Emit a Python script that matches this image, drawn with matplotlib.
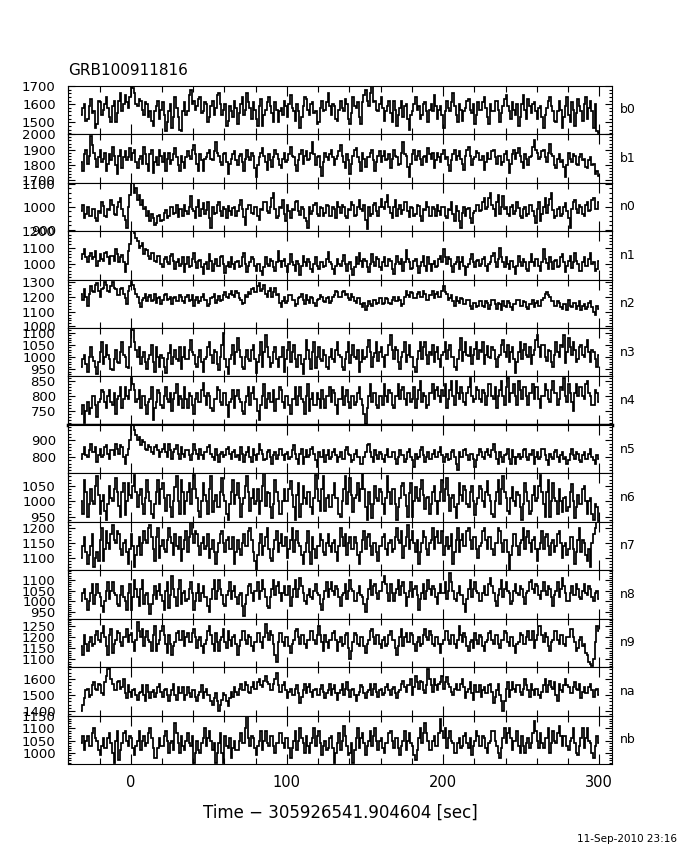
import numpy as np
import matplotlib
matplotlib.use("Agg")
import matplotlib.pyplot as plt
from matplotlib.ticker import MultipleLocator, AutoMinorLocator

plt.rcParams['font.family'] = ['DejaVu Sans']

title = "GRB100911816"
xlabel = "Time \u2212 305926541.904604 [sec]"
date_text = "11-Sep-2010 23:16"
t_start = -32.0
bin_width = 1.0
x_ticks = [0, 100, 200, 300]

b0 = [1540, 1580, 1600, 1510, 1520, 1590, 1630, 1550, 1560, 1470, 1490, 1620, 1610, 1540, 1570, 1600, 1640, 1580, 1530, 1500, 1590, 1620, 1500, 1550, 1620, 1660, 1560, 1600, 1650, 1610, 1580, 1640,
      1700, 1690, 1660, 1600, 1590, 1630, 1620, 1570, 1540, 1610, 1600, 1530, 1560, 1510, 1480, 1560, 1590, 1620, 1520, 1570, 1610, 1540, 1450, 1500, 1560, 1600, 1470, 1530, 1640, 1580, 1530, 1460,
      1450, 1560, 1610, 1540, 1560, 1650, 1680, 1600, 1620, 1570, 1590, 1630, 1640, 1550, 1560, 1610, 1600, 1500, 1530, 1590, 1620, 1540, 1580, 1650, 1660, 1600, 1540, 1570, 1600, 1480, 1510, 1590,
      1560, 1530, 1620, 1580, 1490, 1550, 1600, 1640, 1540, 1570, 1660, 1610, 1580, 1520, 1610, 1570, 1520, 1480, 1590, 1630, 1480, 1540, 1570, 1610, 1640, 1590, 1550, 1500, 1610, 1570, 1500, 1560,
      1580, 1540, 1620, 1590, 1530, 1600, 1650, 1580, 1560, 1510, 1600, 1560, 1470, 1530, 1590, 1640, 1630, 1570, 1540, 1600, 1610, 1550, 1560, 1490, 1500, 1580, 1620, 1560, 1570, 1610, 1660, 1590,
      1540, 1600, 1590, 1520, 1510, 1570, 1620, 1580, 1560, 1630, 1600, 1520, 1490, 1550, 1640, 1590, 1580, 1610, 1530, 1490, 1610, 1650, 1680, 1620, 1590, 1660, 1700, 1610, 1620, 1570, 1560, 1600,
      1640, 1580, 1510, 1560, 1590, 1620, 1550, 1500, 1620, 1570, 1480, 1540, 1580, 1620, 1530, 1590, 1600, 1520, 1460, 1540, 1560, 1600, 1640, 1570, 1590, 1520, 1540, 1600, 1610, 1560, 1500, 1570,
      1600, 1560, 1650, 1590, 1520, 1570, 1590, 1540, 1470, 1560, 1620, 1580, 1560, 1610, 1660, 1590, 1540, 1500, 1600, 1570, 1510, 1560, 1580, 1620, 1630, 1570, 1550, 1600, 1490, 1540, 1610, 1570,
      1570, 1610, 1640, 1580, 1530, 1490, 1600, 1560, 1560, 1620, 1620, 1570, 1500, 1550, 1590, 1630, 1650, 1590, 1560, 1520, 1610, 1570, 1540, 1600, 1480, 1530, 1600, 1650, 1570, 1520, 1630, 1590,
      1550, 1600, 1610, 1560, 1520, 1580, 1590, 1530, 1470, 1540, 1580, 1620, 1640, 1590, 1560, 1510, 1500, 1560, 1620, 1570, 1470, 1530, 1590, 1640, 1540, 1500, 1610, 1570, 1480, 1550, 1630, 1590,
      1560, 1510, 1600, 1640, 1520, 1580, 1620, 1560, 1470, 1600, 1450, 1440]
b1 = [1820, 1760, 1870, 1900, 1810, 1860, 1990, 1930, 1880, 1840, 1790, 1850, 1900, 1820, 1840, 1880, 1760, 1810, 1870, 1830, 1920, 1860, 1800, 1740, 1860, 1900, 1780, 1850, 1890, 1830, 1850, 1910,
      1830, 1880, 1900, 1820, 1780, 1840, 1860, 1810, 1920, 1870, 1810, 1760, 1870, 1900, 1750, 1820, 1850, 1800, 1900, 1860, 1820, 1880, 1760, 1840, 1880, 1810, 1830, 1870, 1910, 1850, 1800, 1760,
      1860, 1820, 1780, 1850, 1890, 1860, 1840, 1900, 1930, 1870, 1810, 1760, 1870, 1830, 1760, 1840, 1850, 1880, 1900, 1840, 1830, 1890, 1950, 1880, 1860, 1820, 1800, 1870, 1880, 1820, 1740, 1810,
      1840, 1870, 1890, 1830, 1800, 1860, 1870, 1820, 1760, 1840, 1900, 1850, 1830, 1880, 1860, 1780, 1720, 1800, 1850, 1880, 1910, 1860, 1820, 1770, 1870, 1830, 1790, 1850, 1900, 1870, 1840, 1800,
      1780, 1840, 1880, 1820, 1830, 1870, 1920, 1860, 1850, 1800, 1760, 1830, 1870, 1900, 1810, 1860, 1890, 1830, 1840, 1880, 1950, 1870, 1800, 1850, 1860, 1790, 1730, 1820, 1880, 1850, 1830, 1870,
      1900, 1850, 1800, 1840, 1860, 1890, 1930, 1860, 1820, 1780, 1870, 1830, 1740, 1810, 1860, 1900, 1910, 1850, 1820, 1760, 1880, 1840, 1790, 1850, 1850, 1880, 1900, 1830, 1760, 1820, 1860, 1890,
      1820, 1860, 1890, 1830, 1840, 1870, 1780, 1840, 1900, 1860, 1850, 1800, 1810, 1880, 1950, 1870, 1860, 1790, 1720, 1810, 1870, 1900, 1830, 1860, 1890, 1840, 1800, 1850, 1860, 1820, 1910, 1870,
      1840, 1880, 1780, 1830, 1880, 1850, 1820, 1870, 1900, 1840, 1850, 1800, 1760, 1830, 1870, 1900, 1830, 1860, 1890, 1840, 1810, 1770, 1860, 1900, 1920, 1860, 1800, 1840, 1850, 1890, 1880, 1830,
      1830, 1860, 1770, 1820, 1880, 1840, 1840, 1890, 1900, 1850, 1810, 1860, 1860, 1800, 1820, 1870, 1890, 1830, 1750, 1810, 1870, 1900, 1840, 1880, 1910, 1860, 1820, 1780, 1870, 1840, 1800, 1850,
      1860, 1920, 1960, 1900, 1880, 1840, 1850, 1890, 1900, 1850, 1820, 1880, 1940, 1870, 1860, 1800, 1780, 1840, 1870, 1820, 1830, 1790, 1720, 1800, 1880, 1840, 1820, 1870, 1860, 1810, 1800, 1850,
      1870, 1830, 1840, 1790, 1780, 1830, 1850, 1800, 1810, 1740, 1760, 1730]
n0 = [980, 1010, 950, 970, 1000, 960, 960, 990, 990, 950, 940, 980, 975, 1020, 1005, 960, 955, 990, 985, 1030, 1010, 970, 965, 1000, 1020, 1040, 990, 960, 945, 910, 1000, 1050,
      1105, 1105, 1060, 1080, 1030, 1050, 1010, 1030, 990, 1000, 960, 980, 940, 970, 950, 920, 930, 960, 965, 940, 945, 975, 985, 950, 960, 1000, 1000, 970, 975, 1010, 955, 990,
      990, 960, 1010, 980, 970, 1000, 1045, 990, 980, 950, 1000, 1030, 960, 990, 1015, 970, 985, 1020, 950, 910, 1000, 970, 975, 1010, 1020, 980, 960, 1000, 990, 950, 1005, 980,
      965, 995, 1000, 960, 980, 1010, 1030, 990, 955, 920, 990, 1010, 1010, 975, 970, 1000, 1000, 960, 945, 990, 985, 1020, 1020, 980, 975, 1000, 1040, 1060, 990, 950, 960, 1000,
      995, 1030, 970, 940, 1010, 980, 950, 990, 985, 1020, 1025, 980, 965, 1000, 990, 950, 940, 910, 1000, 970, 980, 1010, 1015, 970, 960, 1000, 995, 960, 975, 1010, 1005, 960,
      960, 1000, 990, 950, 1020, 1000, 975, 1010, 1000, 960, 950, 990, 985, 1020, 1010, 960, 965, 1000, 1030, 990, 980, 1010, 945, 905, 1000, 960, 970, 1010, 1015, 980, 960, 1000,
      1035, 1000, 990, 1020, 1050, 1000, 975, 950, 1000, 1030, 960, 990, 1010, 970, 985, 1020, 1020, 980, 955, 1000, 995, 960, 970, 1010, 1005, 960, 940, 990, 985, 1020, 1000, 960,
      960, 1000, 990, 960, 1010, 980, 965, 1000, 1000, 960, 950, 990, 985, 1020, 970, 940, 1005, 980, 940, 910, 975, 1000, 960, 990, 995, 950, 930, 975, 980, 1010, 1010, 980,
      985, 1020, 1040, 990, 1000, 1040, 1060, 1010, 990, 960, 1020, 1050, 970, 1000, 1045, 990, 1000, 970, 960, 1000, 1010, 970, 980, 1020, 995, 960, 950, 990, 1000, 960, 970, 1010,
      1010, 980, 960, 930, 990, 1020, 940, 970, 1000, 1040, 975, 1010, 1035, 1060, 985, 950, 960, 990, 1000, 960, 970, 1000, 1015, 980, 950, 910, 990, 1020, 1030, 990, 975, 1010,
      1000, 970, 960, 1010, 1020, 980, 985, 1030, 1040, 990, 990, 1020]
n1 = [1030, 1060, 1095, 1040, 1010, 1050, 1070, 1030, 1045, 1080, 990, 1020, 1060, 1030, 1020, 1070, 1075, 1040, 1000, 1050, 1050, 1020, 1090, 1060, 1015, 1040, 1055, 1010, 950, 1000, 1080, 1120,
      1202, 1202, 1190, 1160, 1140, 1100, 1110, 1130, 1060, 1090, 1085, 1050, 1030, 1070, 1065, 1020, 1010, 1050, 1050, 1000, 980, 1030, 1040, 1010, 1000, 1050, 1060, 1020, 970, 1010, 1030, 990,
      1000, 1040, 950, 1000, 1040, 980, 990, 1030, 1070, 1010, 975, 1020, 1025, 980, 940, 1000, 1010, 970, 1060, 1020, 960, 1000, 1030, 990, 990, 1040, 1050, 1000, 945, 990, 1015, 980,
      1040, 1000, 970, 1010, 1020, 980, 985, 1040, 1065, 1000, 950, 990, 1010, 1040, 1030, 990, 960, 1000, 1000, 960, 935, 980, 1045, 1000, 990, 1030, 1020, 980, 960, 1010, 1080, 1020,
      980, 1020, 1030, 990, 950, 1000, 1060, 1010, 995, 960, 1020, 1000, 930, 990, 1050, 1010, 985, 1030, 1010, 970, 950, 1000, 1040, 990, 970, 1010, 1015, 980, 990, 1030, 1075, 1010,
      1000, 970, 940, 990, 1030, 1000, 985, 1020, 1055, 1000, 960, 1000, 1010, 970, 930, 980, 1040, 1000, 1070, 1020, 980, 1030, 1020, 980, 950, 1000, 1060, 1010, 990, 1040, 1030, 980,
      965, 1010, 1040, 990, 990, 1030, 1020, 970, 940, 1000, 1050, 1010, 1000, 1030, 960, 1010, 1085, 1030, 1010, 970, 975, 1020, 1030, 990, 945, 990, 1015, 1050, 990, 960, 1040, 1000,
      960, 1000, 1020, 980, 985, 1030, 1050, 1010, 1095, 1040, 1000, 1040, 1030, 990, 950, 1000, 1010, 1040, 970, 1010, 1045, 990, 935, 980, 1000, 1030, 1060, 1010, 980, 1020, 1025, 990,
      1000, 1030, 1040, 990, 955, 1000, 1015, 1050, 1070, 1010, 980, 1030, 1100, 1040, 1010, 980, 1045, 1000, 970, 1020, 1020, 980, 940, 990, 1050, 1010, 990, 1030, 1015, 970, 960, 1010,
      1060, 1010, 985, 1030, 1030, 990, 960, 1010, 1090, 1030, 1005, 970, 1040, 1010, 970, 1020, 1025, 980, 990, 1040, 1060, 1010, 950, 990, 1020, 1050, 975, 1010, 1070, 1020, 1000, 960,
      955, 1010, 1040, 990, 990, 1030, 1065, 1000, 1010, 960, 970, 1020]
n2 = [1220, 1180, 1250, 1200, 1140, 1220, 1270, 1240, 1230, 1280, 1290, 1240, 1200, 1250, 1260, 1300, 1280, 1240, 1230, 1270, 1300, 1260, 1250, 1210, 1210, 1250, 1260, 1220, 1190, 1150, 1240, 1270,
      1300, 1280, 1250, 1220, 1200, 1160, 1130, 1180, 1190, 1220, 1170, 1200, 1210, 1170, 1180, 1220, 1160, 1190, 1200, 1150, 1175, 1210, 1220, 1180, 1185, 1200, 1150, 1190, 1200, 1170, 1170, 1210,
      1195, 1170, 1160, 1200, 1210, 1170, 1180, 1210, 1140, 1180, 1200, 1160, 1170, 1200, 1215, 1180, 1180, 1140, 1150, 1190, 1195, 1220, 1160, 1180, 1205, 1170, 1175, 1210, 1230, 1200, 1190, 1220,
      1240, 1210, 1200, 1240, 1225, 1190, 1180, 1150, 1160, 1210, 1200, 1230, 1220, 1250, 1260, 1230, 1230, 1270, 1290, 1240, 1250, 1280, 1220, 1200, 1240, 1260, 1200, 1230, 1260, 1210, 1220, 1160,
      1130, 1170, 1200, 1160, 1170, 1210, 1210, 1180, 1180, 1140, 1150, 1190, 1200, 1220, 1175, 1150, 1210, 1180, 1160, 1200, 1190, 1160, 1140, 1180, 1185, 1210, 1200, 1170, 1165, 1190, 1195, 1160,
      1170, 1200, 1210, 1240, 1230, 1200, 1200, 1230, 1240, 1210, 1215, 1190, 1180, 1220, 1200, 1170, 1160, 1190, 1190, 1150, 1130, 1160, 1110, 1140, 1170, 1150, 1140, 1180, 1180, 1150, 1155, 1190,
      1190, 1150, 1160, 1190, 1185, 1160, 1150, 1180, 1200, 1170, 1170, 1200, 1180, 1140, 1150, 1200, 1240, 1210, 1200, 1230, 1225, 1190, 1190, 1220, 1230, 1200, 1200, 1240, 1215, 1180, 1180, 1210,
      1210, 1240, 1190, 1220, 1230, 1200, 1200, 1240, 1270, 1230, 1220, 1180, 1190, 1210, 1170, 1140, 1200, 1170, 1160, 1190, 1185, 1150, 1150, 1180, 1175, 1140, 1120, 1160, 1160, 1130, 1140, 1170,
      1170, 1140, 1130, 1170, 1160, 1120, 1145, 1180, 1180, 1150, 1120, 1160, 1150, 1110, 1170, 1140, 1130, 1170, 1160, 1130, 1110, 1150, 1150, 1180, 1175, 1140, 1140, 1170, 1165, 1130, 1120, 1150,
      1150, 1180, 1130, 1160, 1170, 1140, 1140, 1180, 1190, 1220, 1230, 1210, 1200, 1170, 1170, 1140, 1140, 1170, 1160, 1130, 1120, 1150, 1150, 1110, 1175, 1140, 1130, 1160, 1160, 1120, 1140, 1170,
      1110, 1140, 1150, 1120, 1130, 1160, 1170, 1130, 1100, 1080, 1140, 1120]
n3 = [960, 990, 1010, 970, 940, 1000, 1040, 1000, 985, 960, 930, 980, 1020, 1060, 970, 1000, 1050, 1010, 990, 950, 945, 990, 1030, 980, 975, 1020, 1060, 1010, 1000, 960, 955, 1040,
      1120, 1110, 1060, 1030, 1000, 1040, 970, 1000, 1020, 980, 950, 990, 1010, 1050, 980, 940, 1040, 1000, 960, 1010, 995, 960, 935, 990, 1015, 1050, 970, 1000, 1030, 990, 985, 1040,
      950, 1000, 1040, 990, 990, 1030, 1070, 1020, 1010, 970, 960, 1000, 1030, 980, 940, 990, 1000, 1040, 1060, 1010, 975, 1030, 1020, 970, 945, 1000, 1050, 1100, 990, 960, 930, 990,
      1010, 1050, 970, 1020, 1080, 1030, 1000, 960, 950, 1000, 1030, 990, 985, 1030, 1050, 990, 935, 980, 1010, 1060, 960, 1020, 1090, 1040, 1000, 960, 975, 1020, 1040, 990, 960, 1000,
      1000, 1040, 940, 990, 1030, 1060, 980, 1020, 1050, 990, 960, 1010, 1010, 970, 930, 990, 1070, 1030, 990, 950, 1020, 1060, 955, 1000, 1040, 990, 985, 1030, 1010, 960, 950, 1000,
      1035, 990, 980, 1030, 1060, 1010, 1000, 960, 945, 990, 1020, 1060, 975, 1010, 1050, 1000, 990, 1030, 940, 980, 1030, 990, 1000, 1040, 1070, 1020, 960, 1000, 1015, 1060, 985, 1020,
      1040, 1000, 960, 1010, 1010, 1050, 1090, 1030, 990, 1040, 1030, 980, 950, 1000, 1020, 1060, 980, 1010, 1050, 1000, 1000, 960, 940, 990, 1025, 1060, 990, 1040, 1060, 1010, 970, 1020,
      1010, 1050, 980, 1020, 1040, 990, 960, 1010, 1020, 1060, 990, 1030, 1050, 1000, 1000, 960, 945, 990, 1030, 1080, 985, 1020, 1060, 1010, 1005, 1040, 970, 1010, 1035, 1060, 990, 1030,
      1020, 1060, 970, 1010, 1045, 1000, 995, 1040, 1030, 990, 960, 1000, 1010, 1050, 1070, 1020, 1000, 1050, 980, 1020, 1040, 990, 935, 980, 1020, 1060, 990, 1030, 1055, 1010, 1000, 1040,
      970, 1010, 1030, 1070, 1090, 1040, 1000, 1050, 1050, 1000, 985, 1030, 1025, 980, 960, 1010, 1060, 1020, 1000, 1050, 1040, 1090, 975, 1020, 1080, 1040, 1010, 1060, 1030, 980, 990, 1040,
      1050, 1010, 1000, 1040, 1070, 1020, 980, 1030, 1020, 990, 960, 1010]
n4 = [740, 770, 710, 750, 780, 740, 760, 800, 800, 770, 730, 780, 790, 820, 815, 780, 760, 800, 820, 780, 770, 810, 740, 790, 800, 830, 760, 790, 830, 800, 790, 820,
      860, 840, 820, 780, 790, 820, 760, 800, 800, 770, 740, 780, 790, 830, 720, 760, 780, 820, 810, 770, 760, 800, 830, 790, 780, 810, 750, 790, 810, 840, 770, 800,
      790, 760, 830, 790, 760, 810, 800, 770, 740, 790, 810, 780, 780, 820, 845, 800, 770, 810, 800, 760, 750, 790, 790, 830, 820, 780, 770, 810, 810, 770, 730, 780,
      790, 820, 760, 800, 820, 790, 780, 750, 740, 780, 800, 830, 770, 810, 830, 790, 790, 750, 720, 770, 800, 840, 760, 790, 810, 780, 780, 820, 750, 790, 790, 830,
      820, 780, 760, 800, 800, 770, 740, 790, 790, 830, 770, 800, 830, 790, 780, 740, 800, 840, 750, 790, 810, 770, 770, 810, 790, 760, 820, 790, 760, 800, 800, 830,
      780, 820, 810, 770, 740, 790, 790, 830, 770, 800, 820, 780, 760, 800, 800, 770, 780, 810, 830, 790, 770, 740, 705, 760, 800, 840, 780, 810, 810, 770, 760, 800,
      800, 770, 840, 800, 780, 820, 810, 770, 760, 800, 800, 840, 790, 820, 830, 790, 770, 810, 810, 780, 790, 830, 760, 790, 820, 850, 780, 810, 800, 760, 770, 810,
      810, 840, 790, 820, 830, 800, 780, 820, 800, 840, 760, 790, 820, 850, 800, 770, 850, 810, 790, 830, 810, 780, 770, 810, 830, 860, 800, 780, 790, 830, 820, 790,
      780, 820, 810, 770, 800, 840, 840, 800, 790, 830, 760, 800, 820, 850, 800, 770, 830, 860, 780, 810, 810, 840, 800, 770, 850, 820, 790, 830, 830, 800, 770, 810,
      810, 840, 790, 830, 830, 790, 760, 800, 800, 840, 820, 790, 780, 820, 850, 810, 810, 770, 790, 830, 820, 860, 800, 780, 840, 810, 780, 750, 810, 840, 800, 830,
      830, 800, 790, 840, 850, 810, 800, 770, 770, 820, 810, 780]
n5 = [790, 820, 860, 810, 800, 840, 880, 830, 830, 860, 770, 810, 850, 800, 815, 860, 870, 820, 790, 840, 840, 810, 880, 850, 820, 870, 860, 800, 760, 810, 850, 900,
      992, 992, 960, 930, 900, 920, 870, 900, 890, 850, 840, 870, 860, 830, 820, 860, 870, 840, 800, 830, 850, 880, 830, 800, 880, 840, 790, 830, 845, 870, 820, 790,
      860, 820, 800, 840, 840, 810, 780, 820, 880, 840, 820, 790, 850, 810, 790, 830, 830, 860, 870, 820, 800, 780, 845, 810, 770, 820, 830, 800, 810, 850, 860, 820,
      790, 830, 840, 800, 810, 780, 860, 820, 770, 810, 830, 860, 800, 770, 850, 810, 780, 820, 880, 840, 820, 780, 790, 830, 840, 800, 760, 810, 830, 790, 810, 850,
      850, 810, 780, 820, 830, 790, 800, 840, 870, 820, 790, 760, 820, 850, 760, 800, 840, 800, 810, 850, 860, 820, 780, 740, 830, 800, 800, 840, 770, 810, 840, 790,
      800, 830, 850, 810, 770, 800, 830, 790, 790, 840, 860, 820, 810, 770, 780, 820, 840, 800, 800, 760, 760, 800, 830, 870, 880, 830, 800, 770, 840, 810, 790, 830,
      820, 790, 770, 810, 850, 800, 800, 830, 830, 790, 760, 800, 840, 810, 810, 770, 790, 830, 850, 800, 780, 740, 820, 790, 800, 840, 860, 810, 770, 800, 830, 790,
      790, 820, 840, 800, 800, 830, 860, 810, 770, 800, 820, 780, 790, 830, 840, 800, 760, 720, 830, 800, 800, 840, 850, 810, 780, 820, 820, 790, 740, 780, 810, 850,
      830, 800, 790, 830, 850, 810, 800, 840, 880, 830, 790, 760, 830, 800, 770, 810, 820, 850, 790, 760, 840, 800, 760, 800, 820, 790, 800, 840, 850, 800, 780, 820,
      810, 840, 760, 800, 830, 790, 800, 850, 850, 810, 780, 750, 820, 800, 790, 830, 840, 800, 770, 810, 830, 790, 800, 760, 780, 820, 850, 810, 790, 830, 820, 780,
      770, 810, 830, 790, 790, 820, 850, 800, 780, 760, 810, 790]
n6 = [1000, 960, 1070, 1030, 950, 990, 1040, 1000, 990, 1050, 1080, 1020, 960, 1000, 1020, 970, 940, 990, 1050, 1010, 1000, 1040, 1075, 1030, 985, 950, 1030, 1060, 955, 1000, 1060, 1020,
      1010, 1050, 1085, 1030, 980, 1020, 1040, 990, 960, 1010, 1070, 1030, 1000, 960, 945, 990, 1030, 1070, 990, 1040, 1060, 1010, 970, 1020, 1020, 980, 950, 1000, 1045, 1080, 1000, 960,
      1070, 1030, 960, 1000, 1030, 1060, 990, 1040, 1085, 1040, 1010, 970, 950, 1000, 1060, 1020, 1000, 960, 1040, 1080, 965, 1000, 1020, 980, 980, 1030, 1075, 1020, 1000, 960, 940, 990,
      1030, 1070, 990, 1020, 1060, 1010, 950, 990, 1010, 1050, 1080, 1030, 970, 1010, 1040, 990, 1000, 1040, 960, 1000, 1050, 1090, 985, 1030, 1025, 980, 945, 990, 1070, 1030, 1000, 960,
      960, 1000, 1040, 1000, 1000, 1040, 1065, 1020, 980, 940, 1020, 1060, 950, 990, 1050, 1010, 990, 1030, 1030, 980, 960, 1010, 1085, 1040, 1000, 970, 1040, 1080, 970, 1010, 1020, 980,
      980, 1020, 1060, 1010, 1010, 960, 950, 1000, 1040, 1080, 990, 1030, 1075, 1020, 965, 1010, 1020, 1060, 1000, 1040, 1090, 1040, 980, 940, 1030, 990, 945, 990, 1050, 1010, 1000, 1040,
      1030, 990, 960, 1010, 1080, 1030, 990, 1040, 1040, 990, 940, 980, 1010, 1050, 1060, 1020, 985, 950, 1025, 1060, 950, 1000, 1045, 1010, 1000, 1040, 1070, 1020, 975, 1010, 1015, 960,
      990, 1030, 1050, 1000, 960, 1000, 1030, 1070, 1000, 1040, 1075, 1020, 970, 1010, 1020, 980, 945, 990, 1060, 1020, 1000, 1050, 1035, 990, 980, 1030, 1050, 1000, 955, 990, 1010, 1050,
      1040, 1000, 980, 1030, 1065, 1020, 1000, 960, 950, 1000, 1030, 1070, 990, 1040, 1080, 1030, 1010, 970, 960, 1010, 1045, 1000, 985, 1030, 1020, 980, 940, 990, 1060, 1030, 1000, 960,
      970, 1020, 1050, 1000, 1010, 1050, 1085, 1030, 990, 950, 1030, 1070, 950, 1000, 1060, 1010, 1000, 960, 1040, 1000, 965, 1010, 1015, 970, 980, 1030, 1055, 1000, 945, 980, 1020, 990,
      990, 1040, 1050, 1000, 960, 1000, 1010, 960, 940, 990, 980, 935]
n7 = [1100, 1140, 1170, 1120, 1080, 1110, 1140, 1180, 1070, 1100, 1120, 1090, 1160, 1200, 1090, 1130, 1190, 1150, 1130, 1180, 1210, 1160, 1150, 1190, 1180, 1130, 1110, 1150, 1160, 1120, 1080, 1130,
      1180, 1140, 1070, 1110, 1140, 1170, 1110, 1150, 1190, 1160, 1150, 1200, 1210, 1170, 1130, 1090, 1170, 1200, 1100, 1140, 1160, 1130, 1120, 1160, 1200, 1170, 1150, 1110, 1180, 1140, 1130, 1170,
      1090, 1130, 1160, 1190, 1120, 1170, 1220, 1180, 1150, 1190, 1180, 1140, 1110, 1150, 1170, 1130, 1140, 1180, 1100, 1130, 1160, 1120, 1080, 1120, 1150, 1180, 1190, 1150, 1120, 1160, 1170, 1130,
      1130, 1170, 1080, 1120, 1160, 1130, 1110, 1150, 1180, 1140, 1140, 1190, 1200, 1160, 1120, 1090, 1060, 1110, 1150, 1180, 1110, 1140, 1170, 1200, 1130, 1100, 1090, 1130, 1160, 1190, 1120, 1150,
      1180, 1140, 1140, 1170, 1100, 1130, 1160, 1200, 1120, 1160, 1190, 1150, 1140, 1110, 1080, 1120, 1150, 1190, 1120, 1080, 1170, 1130, 1100, 1140, 1140, 1180, 1160, 1120, 1110, 1150, 1180, 1140,
      1120, 1150, 1160, 1120, 1090, 1140, 1200, 1170, 1140, 1180, 1110, 1150, 1170, 1130, 1130, 1170, 1150, 1110, 1080, 1120, 1160, 1190, 1130, 1170, 1180, 1140, 1110, 1150, 1150, 1120, 1090, 1140,
      1140, 1170, 1180, 1130, 1110, 1150, 1160, 1120, 1130, 1170, 1200, 1160, 1150, 1190, 1100, 1140, 1170, 1210, 1130, 1160, 1190, 1150, 1120, 1160, 1080, 1120, 1150, 1190, 1170, 1130, 1110, 1150,
      1160, 1200, 1130, 1170, 1190, 1150, 1150, 1190, 1110, 1140, 1170, 1130, 1140, 1180, 1080, 1120, 1160, 1200, 1120, 1160, 1180, 1140, 1140, 1190, 1200, 1160, 1130, 1170, 1170, 1130, 1100, 1140,
      1150, 1190, 1200, 1160, 1130, 1170, 1170, 1130, 1110, 1150, 1150, 1200, 1190, 1150, 1120, 1160, 1160, 1120, 1060, 1110, 1140, 1180, 1180, 1140, 1110, 1150, 1160, 1200, 1130, 1170, 1190, 1150,
      1120, 1160, 1170, 1130, 1090, 1130, 1150, 1190, 1130, 1170, 1180, 1140, 1110, 1150, 1160, 1120, 1140, 1180, 1190, 1150, 1100, 1140, 1150, 1110, 1130, 1170, 1170, 1130, 1080, 1120, 1160, 1200,
      1120, 1160, 1150, 1110, 1090, 1130, 1070, 1150, 1180, 1200, 1220, 1220]
n8 = [1000, 1040, 1060, 1010, 960, 1000, 1040, 1080, 990, 1030, 1080, 1040, 1020, 980, 950, 1000, 1050, 1090, 1010, 1050, 1090, 1040, 1030, 990, 980, 1030, 1070, 1020, 1000, 960, 1040, 1080,
      960, 1020, 1100, 1060, 1020, 980, 1060, 1100, 990, 1030, 1040, 990, 940, 990, 1030, 1070, 1010, 1050, 1080, 1030, 1000, 960, 1050, 1090, 970, 1030, 1120, 1060, 1020, 980, 1060, 1100,
      990, 1040, 1050, 1000, 1010, 1060, 1090, 1040, 960, 1000, 1040, 1080, 1000, 1040, 1070, 1020, 1020, 980, 950, 1010, 1060, 1100, 1010, 1050, 1100, 1060, 1030, 990, 980, 1030, 1050, 1090,
      1010, 1050, 1070, 1020, 990, 1030, 1040, 980, 930, 990, 1030, 1070, 1080, 1040, 1000, 1050, 1050, 1090, 1010, 1050, 1100, 1060, 1020, 980, 970, 1020, 1060, 1100, 1030, 1070, 1090, 1040,
      1000, 1040, 1070, 1030, 1030, 1070, 980, 1020, 1060, 1100, 1020, 1060, 1110, 1070, 1040, 1000, 990, 1030, 1060, 1020, 1010, 1050, 1080, 1040, 1030, 990, 960, 1010, 1050, 1090, 1020, 1060,
      1090, 1050, 1030, 1070, 1060, 1020, 980, 1030, 1040, 1080, 1010, 1050, 1100, 1060, 1050, 1000, 1000, 1040, 1070, 1030, 1020, 990, 950, 1010, 1060, 1100, 1030, 1070, 1080, 1040, 1010, 1050,
      1050, 1090, 1120, 1080, 1040, 1000, 1080, 1040, 1000, 1040, 1060, 1100, 1030, 1070, 1090, 1040, 980, 1020, 1050, 1090, 1020, 1060, 1070, 1030, 960, 1010, 1040, 1080, 1010, 1050, 1100, 1060,
      1030, 1070, 1060, 1020, 990, 1040, 1080, 1040, 1040, 1090, 1010, 1050, 1130, 1090, 1050, 1010, 1000, 1040, 1070, 1030, 1030, 990, 950, 1010, 1060, 1100, 1020, 1060, 1090, 1050, 1040, 1000,
      1000, 1040, 1070, 1030, 1030, 1080, 1110, 1070, 1040, 1000, 980, 1030, 1060, 1100, 1020, 1060, 1090, 1050, 1040, 990, 1000, 1050, 1080, 1040, 1030, 1070, 1060, 1020, 990, 1040, 1050, 1090,
      1100, 1060, 1040, 1080, 1070, 1030, 1010, 1050, 1090, 1050, 1030, 1070, 1060, 1020, 980, 1030, 1050, 1090, 1020, 1060, 1110, 1070, 1040, 1000, 1000, 1040, 1070, 1030, 1030, 1080, 1060, 1020,
      1010, 1050, 1080, 1040, 1030, 1070, 1060, 1020, 1000, 1040, 1050, 1010]
n9 = [1160, 1120, 1210, 1170, 1140, 1180, 1200, 1160, 1170, 1210, 1230, 1190, 1180, 1220, 1250, 1200, 1160, 1120, 1210, 1240, 1130, 1170, 1190, 1230, 1220, 1180, 1160, 1200, 1200, 1240, 1180, 1210,
      1220, 1180, 1140, 1190, 1270, 1230, 1200, 1240, 1160, 1200, 1230, 1190, 1180, 1140, 1210, 1250, 1140, 1170, 1190, 1230, 1250, 1210, 1170, 1130, 1210, 1170, 1120, 1160, 1180, 1220, 1230, 1190,
      1190, 1230, 1160, 1200, 1220, 1180, 1180, 1220, 1240, 1200, 1150, 1190, 1200, 1160, 1130, 1170, 1190, 1230, 1250, 1210, 1170, 1140, 1220, 1180, 1140, 1190, 1200, 1240, 1180, 1150, 1230, 1190,
      1160, 1200, 1210, 1170, 1120, 1160, 1190, 1230, 1230, 1190, 1170, 1210, 1200, 1160, 1140, 1180, 1180, 1220, 1220, 1180, 1150, 1200, 1260, 1220, 1190, 1230, 1210, 1170, 1120, 1090, 1180, 1220,
      1220, 1180, 1160, 1200, 1200, 1160, 1130, 1170, 1190, 1230, 1240, 1200, 1170, 1210, 1210, 1170, 1150, 1190, 1190, 1230, 1230, 1190, 1170, 1210, 1250, 1210, 1180, 1140, 1210, 1180, 1150, 1190,
      1190, 1220, 1230, 1190, 1140, 1180, 1200, 1160, 1170, 1210, 1220, 1150, 1100, 1140, 1180, 1220, 1210, 1170, 1160, 1200, 1200, 1160, 1130, 1170, 1190, 1230, 1240, 1200, 1170, 1210, 1210, 1170,
      1150, 1190, 1200, 1160, 1170, 1210, 1230, 1190, 1190, 1150, 1120, 1160, 1200, 1240, 1160, 1200, 1220, 1180, 1180, 1220, 1210, 1170, 1140, 1180, 1200, 1160, 1170, 1210, 1240, 1200, 1190, 1230,
      1210, 1170, 1160, 1200, 1200, 1170, 1130, 1170, 1190, 1230, 1230, 1190, 1170, 1210, 1210, 1170, 1150, 1190, 1250, 1210, 1180, 1220, 1200, 1160, 1140, 1180, 1190, 1150, 1220, 1190, 1170, 1210,
      1200, 1160, 1140, 1180, 1190, 1220, 1230, 1190, 1170, 1210, 1210, 1170, 1150, 1190, 1190, 1230, 1220, 1180, 1160, 1200, 1200, 1160, 1130, 1170, 1180, 1220, 1210, 1170, 1170, 1200, 1230, 1190,
      1190, 1230, 1150, 1190, 1210, 1250, 1250, 1210, 1180, 1220, 1200, 1160, 1140, 1180, 1190, 1230, 1230, 1190, 1170, 1210, 1210, 1170, 1160, 1200, 1200, 1240, 1240, 1200, 1180, 1140, 1150, 1190,
      1200, 1160, 1170, 1130, 1120, 1090, 1080, 1070, 1100, 1180, 1250, 1230]
na = [1400, 1440, 1480, 1530, 1540, 1490, 1500, 1560, 1580, 1540, 1530, 1570, 1560, 1510, 1500, 1580, 1620, 1660, 1670, 1600, 1570, 1530, 1530, 1580, 1590, 1540, 1550, 1600, 1510, 1480, 1560, 1520,
      1490, 1530, 1540, 1500, 1470, 1510, 1520, 1560, 1500, 1460, 1560, 1520, 1480, 1520, 1530, 1490, 1510, 1550, 1570, 1520, 1490, 1530, 1540, 1500, 1460, 1500, 1530, 1570, 1500, 1470, 1550, 1510,
      1510, 1550, 1470, 1500, 1550, 1510, 1490, 1530, 1530, 1490, 1460, 1500, 1520, 1560, 1480, 1520, 1540, 1500, 1500, 1460, 1440, 1480, 1510, 1460, 1400, 1440, 1470, 1510, 1500, 1460, 1430, 1480,
      1520, 1490, 1550, 1520, 1500, 1540, 1570, 1530, 1530, 1580, 1560, 1520, 1510, 1550, 1580, 1540, 1540, 1580, 1600, 1560, 1550, 1590, 1620, 1580, 1570, 1530, 1530, 1570, 1600, 1640, 1560, 1520,
      1520, 1560, 1580, 1530, 1480, 1520, 1540, 1500, 1500, 1540, 1560, 1510, 1450, 1490, 1530, 1570, 1510, 1550, 1570, 1520, 1490, 1530, 1540, 1500, 1500, 1540, 1560, 1520, 1480, 1510, 1530, 1570,
      1500, 1540, 1560, 1510, 1470, 1510, 1530, 1570, 1500, 1540, 1580, 1530, 1490, 1530, 1540, 1500, 1460, 1500, 1520, 1560, 1550, 1510, 1480, 1520, 1530, 1570, 1500, 1540, 1570, 1520, 1490, 1530,
      1540, 1500, 1510, 1550, 1570, 1530, 1500, 1540, 1550, 1510, 1480, 1520, 1530, 1570, 1590, 1550, 1520, 1560, 1560, 1600, 1500, 1550, 1620, 1580, 1540, 1590, 1580, 1530, 1510, 1560, 1660, 1600,
      1560, 1520, 1600, 1560, 1530, 1570, 1580, 1620, 1540, 1580, 1610, 1570, 1550, 1520, 1500, 1540, 1570, 1530, 1530, 1570, 1600, 1550, 1480, 1520, 1540, 1580, 1510, 1470, 1560, 1520, 1520, 1560,
      1490, 1530, 1550, 1510, 1510, 1560, 1570, 1520, 1450, 1490, 1530, 1570, 1500, 1460, 1400, 1460, 1540, 1580, 1490, 1530, 1580, 1540, 1520, 1560, 1560, 1520, 1500, 1540, 1600, 1560, 1530, 1490,
      1570, 1530, 1500, 1540, 1540, 1500, 1480, 1520, 1560, 1600, 1520, 1560, 1590, 1550, 1540, 1580, 1500, 1460, 1570, 1530, 1520, 1560, 1600, 1560, 1550, 1510, 1510, 1550, 1580, 1540, 1530, 1570,
      1480, 1520, 1550, 1510, 1510, 1550, 1570, 1530, 1490, 1530, 1540, 1500]
nb = [1040, 1070, 1010, 1050, 1070, 1030, 1030, 1080, 1100, 1060, 1050, 1010, 990, 1030, 1060, 1020, 1020, 1060, 1080, 1040, 1000, 960, 1050, 1090, 970, 1010, 1040, 1080, 1090, 1050, 1030, 1070,
      1060, 1020, 990, 1030, 1050, 1090, 1010, 1050, 1070, 1030, 1040, 1080, 1100, 1060, 1020, 980, 980, 1020, 1060, 1030, 1030, 1070, 1090, 1050, 1000, 1040, 1050, 1010, 1120, 1080, 1040, 1000,
      1070, 1030, 1010, 1050, 1080, 1040, 1030, 1070, 960, 1000, 1050, 1010, 1000, 1040, 1060, 1100, 1030, 1060, 1090, 1050, 1010, 1040, 960, 1000, 1040, 1080, 1000, 960, 1070, 1030, 1020, 1060,
      980, 1020, 1050, 1010, 1010, 1050, 1080, 1040, 1040, 1100, 1150, 1060, 1030, 1070, 1060, 1020, 990, 1030, 1050, 1090, 1010, 1050, 1090, 1040, 1030, 1070, 1070, 1030, 1000, 1040, 1040, 1080,
      1080, 1040, 1020, 1060, 1060, 1020, 980, 1020, 1050, 1090, 1010, 1050, 1100, 1060, 1040, 1000, 1070, 1030, 1000, 1040, 1060, 1100, 1030, 1070, 1090, 1040, 990, 1030, 1050, 1010, 1020, 1060,
      1070, 1020, 960, 1000, 1040, 1080, 1010, 1050, 1110, 1070, 1030, 990, 1000, 1040, 960, 1010, 1060, 1100, 1020, 1060, 1080, 1040, 990, 1030, 1050, 1090, 1030, 1070, 1100, 1050, 1010, 1050,
      1060, 1020, 1000, 1040, 1040, 1080, 1090, 1050, 1020, 1060, 1060, 1020, 990, 1030, 1050, 1090, 1010, 1050, 1080, 1040, 1030, 990, 970, 1010, 1060, 1100, 1040, 1080, 1120, 1080, 1050, 1010,
      1010, 1050, 1070, 1030, 1030, 1080, 1140, 1090, 1060, 1100, 1020, 1060, 1090, 1050, 1040, 1000, 1000, 1040, 1060, 1020, 1030, 1070, 1080, 1040, 1020, 1060, 990, 1030, 1050, 1090, 1070, 1030,
      1030, 1070, 1060, 1020, 1000, 1040, 1050, 1090, 1090, 1050, 1030, 1000, 980, 1020, 1060, 1100, 1040, 1080, 1100, 1060, 1010, 1050, 1050, 1090, 1030, 1000, 1070, 1030, 1000, 1040, 1060, 1020,
      1040, 1080, 1130, 1090, 1050, 1020, 1080, 1040, 1020, 1060, 1060, 1100, 1000, 1040, 1090, 1050, 1040, 1080, 1110, 1070, 1030, 1070, 1070, 1030, 1010, 1050, 1060, 1100, 1040, 1000, 990, 1030,
      1060, 1100, 1020, 1060, 1100, 1050, 1040, 1000, 980, 1030, 1070, 1040]

detectors = ["b0", "b1", "n0", "n1", "n2", "n3", "n4", "n5", "n6", "n7", "n8", "n9", "na", "nb"]
series = [b0, b1, n0, n1, n2, n3, n4, n5, n6, n7, n8, n9, na, nb]
y_limits = [(1435, 1702), (1686, 2001), (895, 1105), (905, 1202), (990, 1315), (920, 1120),
            (702, 867), (703, 992), (934, 1090), (1058, 1220), (920, 1145), (1065, 1285),
            (1372, 1674), (955, 1152)]
y_steps = [100, 100, 100, 100, 100, 50, 50, 100, 50, 50, 50, 50, 100, 50]

W, H = 680, 850
fig = plt.figure(figsize=(W / 100, H / 100), dpi=100)
left_px, right_px = 68.3, 611.7
top_px, bot_px = 85.7, 764.0
n = len(detectors)
h_px = (bot_px - top_px) / n

for k in range(n):
    y0 = 1 - (top_px + (k + 1) * h_px) / H
    ax = fig.add_axes([left_px / W, y0, (right_px - left_px) / W, h_px / H])
    vals = np.asarray(series[k], dtype=float)
    edges = t_start + bin_width * np.arange(len(vals) + 1)
    ax.stairs(vals, edges, color='black', lw=1.25, baseline=None)
    ax.set_xlim(-40, 308)
    ax.set_ylim(*y_limits[k])
    ax.xaxis.set_major_locator(MultipleLocator(100))
    ax.xaxis.set_minor_locator(MultipleLocator(20))
    ax.yaxis.set_major_locator(MultipleLocator(y_steps[k]))
    ax.yaxis.set_minor_locator(AutoMinorLocator(5))
    ax.tick_params(which='both', direction='in', top=True, right=True, width=0.8)
    ax.tick_params(axis='x', which='major', length=7)
    ax.tick_params(axis='x', which='minor', length=4)
    ax.tick_params(axis='y', which='major', length=5, labelsize=9.5, pad=9)
    ax.tick_params(axis='y', which='minor', length=2.5)
    for s in ax.spines.values():
        s.set_linewidth(0.8)
    if k == 6:
        ax.spines['bottom'].set_linewidth(2.5)
    if k < n - 1:
        ax.tick_params(axis='x', labelbottom=False)
    else:
        ax.set_xticks(x_ticks)
        ax.tick_params(axis='x', which='major', labelsize=10.5, pad=8)
        ax.set_xlabel(xlabel, fontsize=12, labelpad=9.5)
    ax.text(1.0155, 0.5, detectors[k], transform=ax.transAxes, va='center', ha='left', fontsize=9)
    if k == 0:
        ax.text(0.0, 1.0 + 10.7 / h_px, title, transform=ax.transAxes, ha='left',
                va='baseline', fontsize=11)

fig.text(677 / W, 1 - 842 / H, date_text, ha='right', va='baseline', fontsize=7.5)
fig.savefig("out.png", dpi=100)
